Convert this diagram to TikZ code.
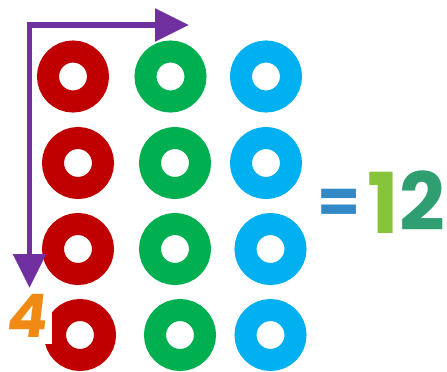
\documentclass[tikz,border=0pt]{standalone}
\usepackage{fontspec}
\newfontfamily\numfont{Poppins}
\usetikzlibrary{arrows.meta}
\definecolor{ringred}{HTML}{C00000}
\definecolor{ringgreen}{HTML}{00B050}
\definecolor{ringblue}{HTML}{00B0F0}
\definecolor{arrpurple}{HTML}{7030A0}
\definecolor{numorange}{HTML}{F08A14}
\definecolor{eqblue}{HTML}{3389C6}
\definecolor{onegreen}{HTML}{86C53A}
\definecolor{twogreen}{HTML}{2F9F72}
\tikzset{
  ring/.style={circle, draw=#1, line width=22pt, minimum size=50pt, inner sep=0pt, outer sep=0pt},
  arr/.style={draw=arrpurple, line width=5.5pt, {Triangle[length=34pt,width=32pt]}-{Triangle[length=34pt,width=32pt]}},
  bignum/.style={inner sep=0pt, font=\numfont\bfseries\fontsize{#1}{#1}\selectfont}
}
\begin{document}
\begin{tikzpicture}[x=1pt,y=-1pt]
\useasboundingbox (0,0) rectangle (447,372);
% rings
\node[ring=ringred]   (r1) at (73,76.5) {};
\node[ring=ringgreen] (g1) at (170.5,76.5) {};
\node[ring=ringblue]  (b1) at (266,76.5) {};
\node[ring=ringred]   (r2) at (78,163) {};
\node[ring=ringgreen] (g2) at (175,163) {};
\node[ring=ringblue]  (b2) at (266,163) {};
\node[ring=ringred]   (r3) at (78,249) {};
\node[ring=ringgreen] (g3) at (175,249) {};
\node[ring=ringblue]  (b3) at (270.5,249) {};
\node[ring=ringred]   (r4) at (80,335) {};
\node[ring=ringgreen] (g4) at (180,335) {};
\node[ring=ringblue]  (b4) at (270.5,335) {};
% arrows
\coordinate (vend) at (29.5,288);
\coordinate (hend) at (189,25);
\draw[arr] (vend) |- (hend);
% number 4
\node[fill=white, minimum width=48pt, minimum height=52pt, inner sep=0pt] (fourbg) at (28,318) {};
\node[bignum=60, text=numorange, xslant=0.12] (four) at (28,316) {4};
% =12
\node[bignum=62, text=eqblue] (eq) at (339,206) {=};
\node[bignum=84, text=onegreen] (one) at (383,203) {1};
\node[bignum=80, text=twogreen] (two) at (422,201) {2};
\end{tikzpicture}
\end{document}
